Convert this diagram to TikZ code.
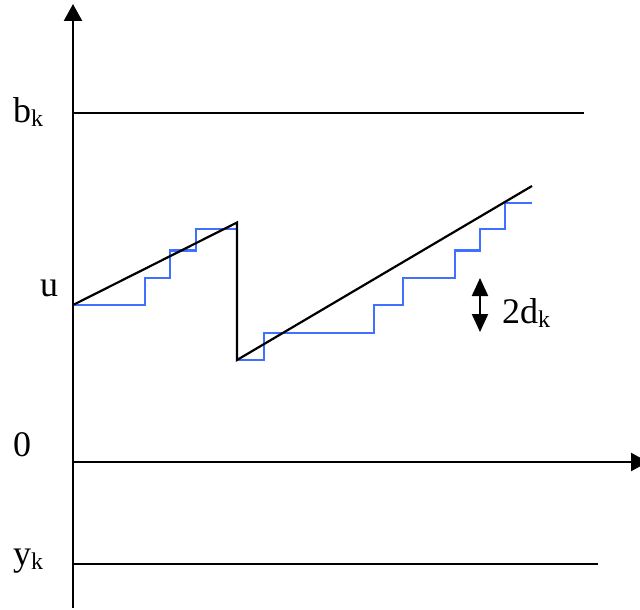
\documentclass[tikz,border=0pt]{standalone}
\usepackage{fontspec}
\setmainfont{Liberation Serif}
\usetikzlibrary{arrows.meta}
\definecolor{stairblue}{RGB}{64,112,255}
\newcommand{\subk}{\raisebox{-4pt}{\fontsize{24}{24}\selectfont k}}
\begin{document}
\begin{tikzpicture}[x=1pt,y=-1pt,
  axis/.style={line width=2.4pt,-{Triangle[width=18pt,length=17pt]}},
  level/.style={line width=2.3pt},
  saw/.style={line width=2.2pt,black,line join=miter},
  stair/.style={line width=2.2pt,stairblue},
  lab/.style={anchor=base west,inner sep=0pt,font=\fontsize{36}{36}\selectfont},
  dbl/.style={line width=2.2pt,{Triangle[width=16pt,length=18pt]}-{Triangle[width=16pt,length=18pt]}}]
\useasboundingbox (0,0) rectangle (640,610);
\clip (0,0) rectangle (640,610);
% axes
\coordinate (ybot) at (73,608);
\coordinate (ytop) at (73,4);
\coordinate (xl) at (73,462);
\coordinate (xr) at (648,462);
\draw[axis] (ybot) -- (ytop);
\draw[axis] (xl) -- (xr);
% levels
\coordinate (bl) at (73,113);
\coordinate (br) at (584,113);
\coordinate (yl) at (73,564);
\coordinate (yr) at (598,564);
\draw[level] (bl) -- (br);
\draw[level] (yl) -- (yr);
% staircase
\draw[stair] (73,305) -- (145,305) -- (145,278) -- (170,278) -- (170,250.5)
  -- (196,250.5) -- (196,229) -- (237,229) -- (237,360) -- (264,360)
  -- (264,333) -- (374,333) -- (374,305) -- (403,305) -- (403,278)
  -- (455,278) -- (455,250.5) -- (480,250.5) -- (480,229) -- (505,229)
  -- (505,203) -- (532,203);
% sawtooth
\coordinate (s0) at (73,305);
\coordinate (s1) at (237,222.5);
\coordinate (s2) at (237,360);
\coordinate (s3) at (532,186);
\draw[saw] (s0) -- (s1) -- (s2) -- (s3);
% double arrow
\coordinate (da) at (480,278);
\coordinate (db) at (480,332);
\draw[dbl] (da) -- (db);
% labels
\node[lab] (lbk) at (13,122) {b\subk};
\node[lab] (lu) at (40,296.5) {u};
\node[lab] (l0) at (13,456) {0};
\node[lab] (lyk) at (13,565) {y\subk};
\node[lab] (l2dk) at (502,323) {2d\subk};
\end{tikzpicture}
\end{document}
